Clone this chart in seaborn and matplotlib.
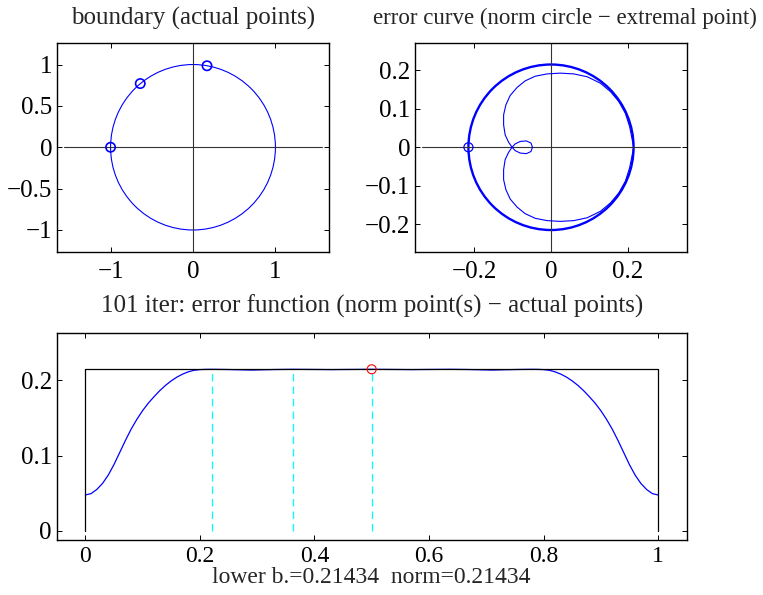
import numpy as np
import pandas as pd
import seaborn as sns
import matplotlib
matplotlib.use("Agg")
import matplotlib.pyplot as plt
from matplotlib.patches import Circle

# ---- values ----
norm_val = 0.21434
lower_b = 0.21434

# boundary: unit circle + the actual points on it
unit_r = 1.0
pts_x = [0.17, -0.64, -1.0]
pts_y = [0.985, 0.77, 0.0]

# error curve inside the norm circle (upper branch, lower one is the mirror)
err_x = [-0.048, -0.052, -0.064, -0.080, -0.093, -0.101, -0.110, -0.119, -0.123,
         -0.123, -0.117, -0.106, -0.088, -0.067, -0.041, -0.010, 0.024, 0.059,
         0.094, 0.128, 0.154, 0.176, 0.193, 0.204, 0.210, 0.2135]
err_y = [0.0, -0.011, -0.0165, -0.015, -0.0087, 0.0, 0.013, 0.032, 0.058,
         0.084, 0.110, 0.134, 0.155, 0.172, 0.184, 0.190, 0.192, 0.190,
         0.1826, 0.166, 0.1444, 0.1184, 0.088, 0.0535, 0.024, 0.005]
extremal_x = [-0.2143]
extremal_y = [0.0]

# error function |norm point - actual point| over t
t_vals = [0.0, 0.01, 0.02, 0.03, 0.04, 0.05, 0.06, 0.07, 0.08, 0.09, 0.10,
          0.11, 0.12, 0.13, 0.14, 0.15, 0.16, 0.17, 0.18, 0.19, 0.20, 0.21,
          0.222, 0.25, 0.29, 0.33, 0.362, 0.40, 0.43, 0.46, 0.50, 0.54, 0.57,
          0.60, 0.638, 0.67, 0.71, 0.75, 0.778, 0.79, 0.80, 0.81, 0.82, 0.83,
          0.84, 0.85, 0.86, 0.87, 0.88, 0.89, 0.90, 0.91, 0.92, 0.93, 0.94,
          0.95, 0.96, 0.97, 0.98, 0.99, 1.0]
e_vals = [0.0477, 0.0495, 0.0550, 0.0630, 0.0740, 0.0880, 0.1040, 0.1200,
          0.1350, 0.1480, 0.1595, 0.1695, 0.1780, 0.1860, 0.1930, 0.1990,
          0.2040, 0.2080, 0.2110, 0.2130, 0.2139, 0.2142,
          0.2143, 0.2140, 0.2133, 0.2140, 0.2143, 0.2141, 0.2139, 0.2141,
          0.2143, 0.2141, 0.2139, 0.2141, 0.2143, 0.2140, 0.2133, 0.2140,
          0.2143, 0.2142, 0.2139, 0.2130, 0.2110, 0.2080, 0.2040, 0.1990,
          0.1930, 0.1860, 0.1780, 0.1695, 0.1595, 0.1480, 0.1350, 0.1200,
          0.1040, 0.0880, 0.0740, 0.0630, 0.0550, 0.0495, 0.0477]
t_star = [0.222, 0.362, 0.5]
t_max = [0.5]

# axis cross lines (horizontal extents as drawn)
hline_tl = [-1.57, 1.56]
hline_tr = [-0.335, 0.336]

# ticks
tl_xticks, tl_xlabels = [-1, 0, 1], ["\u22121", "0", "1"]
tl_yticks, tl_ylabels = [-1, -0.5, 0, 0.5, 1], ["\u22121", "\u22120.5", "0", "0.5", "1"]
tr_xticks, tr_xlabels = [-0.2, 0, 0.2], ["\u22120.2", "0", "0.2"]
tr_yticks, tr_ylabels = [-0.2, -0.1, 0, 0.1, 0.2], ["\u22120.2", "\u22120.1", "0", "0.1", "0.2"]
b_xticks, b_xlabels = [0, 0.2, 0.4, 0.6, 0.8, 1], ["0", "0.2", "0.4", "0.6", "0.8", "1"]
b_yticks, b_ylabels = [0, 0.1, 0.2], ["0", "0.1", "0.2"]

sns.set_theme(style="white")
plt.rcParams["font.family"] = ["Liberation Serif", "DejaVu Serif"]
fs = 18

fig = plt.figure(figsize=(7.63, 5.95), dpi=100)
ax1 = fig.add_axes([0.0747, 0.5773, 0.3565, 0.3504])
ax2 = fig.add_axes([0.5439, 0.5773, 0.3565, 0.3504])
ax3 = fig.add_axes([0.0743, 0.0924, 0.8257, 0.3474])


def style(ax, xt, xl, yt, yl, xpad=7):
    ax.set_xticks(xt)
    ax.set_xticklabels(xl)
    ax.set_yticks(yt)
    ax.set_yticklabels(yl)
    ax.tick_params(direction="in", length=3.5, width=0.7, colors="black",
                   top=True, right=True, bottom=True, left=True,
                   labelsize=fs)
    ax.tick_params(axis="x", pad=xpad)
    ax.tick_params(axis="y", pad=3.5)
    for s in ax.spines.values():
        s.set_visible(True)
        s.set_color("black")
        s.set_linewidth(1.0)
    ax.set_xlabel("")
    ax.set_ylabel("")


# --- boundary ---
ax1.plot(hline_tl, [0, 0], color="0.2", lw=0.8)
ax1.axvline(0, color="0.2", lw=0.8)
ax1.add_patch(Circle((0, 0), unit_r, fill=False, ec="blue", lw=0.8))
sns.scatterplot(x=pts_x, y=pts_y, ax=ax1, marker="o", s=45,
                facecolor="none", edgecolor="blue", linewidth=1.2, zorder=5)
ax1.set_xlim(-1.65, 1.65)
ax1.set_ylim(-1.26, 1.26)
style(ax1, tl_xticks, tl_xlabels, tl_yticks, tl_ylabels)
ax1.set_title("boundary (actual points)", fontsize=fs, pad=13)

# --- error curve ---
ax2.plot(hline_tr, [0, 0], color="0.2", lw=0.8)
ax2.axvline(0, color="0.2", lw=0.8)
ax2.add_patch(Circle((0, 0), norm_val, fill=False, ec="blue", lw=1.7))
up = pd.DataFrame({"x": err_x, "y": err_y})
sns.lineplot(data=up, x="x", y="y", ax=ax2, sort=False, estimator=None,
             color="blue", lw=0.8)
sns.lineplot(x=up["x"], y=-up["y"], ax=ax2, sort=False, estimator=None,
             color="blue", lw=0.8)
sns.scatterplot(x=extremal_x, y=extremal_y, ax=ax2, marker="o", s=42,
                facecolor="none", edgecolor="blue", linewidth=0.9, zorder=5)
ax2.set_xlim(-0.353, 0.353)
ax2.set_ylim(-0.27, 0.27)
style(ax2, tr_xticks, tr_xlabels, tr_yticks, tr_ylabels)
ax2.set_title("error curve (norm circle \u2212 extremal point)", fontsize=16.5,
              pad=14, x=0.55)

# --- error function ---
ef = pd.DataFrame({"t": t_vals, "e": e_vals})
sns.lineplot(data=ef, x="t", y="e", ax=ax3, estimator=None, color="blue", lw=0.9)
ax3.plot([0, 0, 1, 1], [0, norm_val, norm_val, 0], color="black", lw=0.9)
for ts in t_star:
    ax3.plot([ts, ts], [0, norm_val], color="cyan", lw=0.9, dashes=(6, 4))
sns.scatterplot(x=t_max, y=[norm_val], ax=ax3, marker="o", s=42,
                facecolor="none", edgecolor="red", linewidth=0.8, zorder=5)
ax3.set_xlim(-0.05, 1.05)
ax3.set_ylim(-0.012, 0.262)
style(ax3, b_xticks, b_xlabels, b_yticks, b_ylabels, xpad=4)
ax3.tick_params(axis="x", labelsize=17)
ax3.set_title("101 iter: error function (norm point(s) \u2212 actual points)",
              fontsize=fs, pad=15)
ax3.set_xlabel("lower b.=%.5f  norm=%.5f" % (lower_b, norm_val), fontsize=17)
ax3.xaxis.set_label_coords(0.5, -0.132)

fig.savefig("out.png", dpi=100)
